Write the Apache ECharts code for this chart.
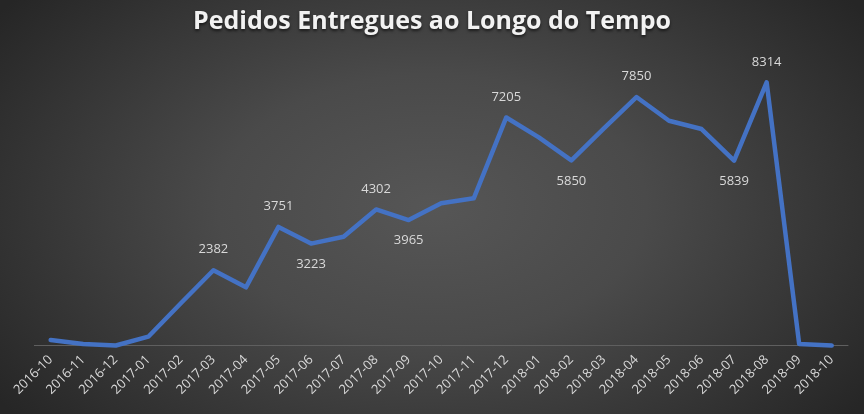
<!DOCTYPE html>
<html><head><meta charset="utf-8">
<script src="https://cdn.jsdelivr.net/npm/echarts@6/dist/echarts.min.js"></script>
<style>html,body{margin:0;padding:0;background:#262626;}
#c{width:864px;height:414px;background:radial-gradient(ellipse 62% 80% at 50% 50%, #565656 0%, #4a4a4a 40%, #2f2f2f 85%, #262626 100%);}</style>
</head><body><div id="c"></div>
<script>
const categories = ['2016-10','2016-11','2016-12','2017-01','2017-02','2017-03','2017-04','2017-05','2017-06','2017-07','2017-08','2017-09','2017-10','2017-11','2017-12','2018-01','2018-02','2018-03','2018-04','2018-05','2018-06','2018-07','2018-08','2018-09','2018-10'];
const delivered = [180,55,5,284,1340,2382,1843,3751,3223,3440,4302,3965,4495,4653,7205,6578,5850,6860,7850,7102,6840,5839,8314,56,3];
const labelPositions = [null,null,null,null,null,'top',null,'top','bottom',null,'top','bottom',null,null,'top',null,'bottom',null,'top',null,null,'bottom','top',null,null];

const chart = echarts.init(document.getElementById('c'), null, {renderer:'canvas'});
const seriesData = delivered.map((v,i)=>{
  const p = labelPositions[i];
  return p ? {value:v, label:{show:true, position:p}} : {value:v};
});
chart.setOption({
  backgroundColor: 'transparent',
  title:{
    text:'Pedidos Entregues ao Longo do Tempo',
    left:'center', top:4,
    textStyle:{fontFamily:'Open Sans', fontWeight:'bold', fontSize:25, color:'#f2f2f2',
      textShadowColor:'rgba(0,0,0,0.6)', textShadowBlur:3, textShadowOffsetY:2}
  },
  grid:{left:34.4, right:16, top:60.6, bottom:68.3, containLabel:false},
  xAxis:{
    type:'category', data:categories, boundaryGap:true,
    axisLine:{lineStyle:{color:'#5f5f5f', width:1}},
    axisTick:{show:false},
    axisLabel:{rotate:45, interval:0, color:'#d9d9d9', fontFamily:'Open Sans', fontSize:13, margin:12}
  },
  yAxis:{
    type:'value', min:0, max:9000, show:false, splitLine:{show:false}
  },
  series:[{
    type:'line', data:seriesData,
    symbol:'circle', symbolSize:2, showSymbol:true,
    itemStyle:{color:'#4472C4'},
    lineStyle:{color:'#4472C4', width:4.5, cap:'round', join:'round'},
    label:{show:false, color:'#d9d9d9', fontFamily:'Open Sans', fontSize:13, distance:13},
    emphasis:{disabled:true},
    animation:false
  }],
  animation:false
});
</script></body></html>
